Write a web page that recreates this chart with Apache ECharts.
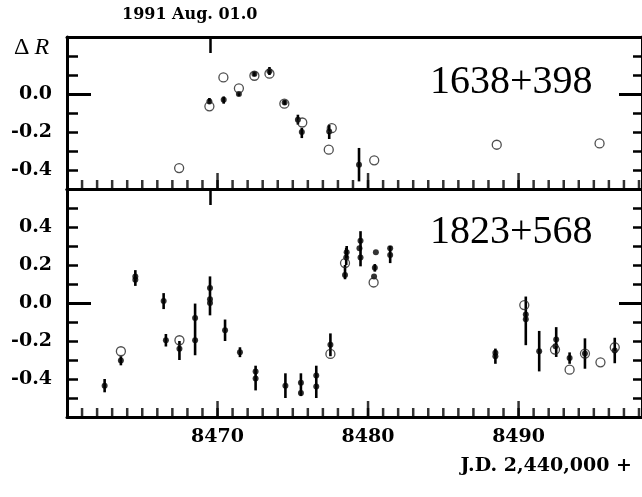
<!DOCTYPE html>
<html>
<head>
<meta charset="utf-8">
<script src="https://cdn.jsdelivr.net/npm/echarts@6/dist/echarts.min.js"></script>
<style>html,body{margin:0;padding:0;background:#fff;}#c{width:642px;height:497px;}</style>
</head>
<body>
<div id="c"></div>
<script>
// ---- axis settings / tick labels ----
const xMin = 8460, xMax = 8498.2;
const topYMin = -0.5, topYMax = 0.3;
const botYMin = -0.6, botYMax = 0.6;
const xTickLabels = [8470, 8480, 8490];
const aug1 = [8469.5];
const topYLabels = [0.0, -0.2, -0.4];
const botYLabels = [0.4, 0.2, 0.0, -0.2, -0.4];

// ---- 1638+398 (top panel) ----
const topOpenX = [8467.45, 8469.46, 8470.39, 8471.42, 8472.45, 8473.45, 8474.44, 8475.63, 8477.39, 8477.59, 8480.41, 8488.55, 8495.38];
const topOpenY = [-0.39, -0.065, 0.087, 0.03, 0.096, 0.107, -0.051, -0.15, -0.293, -0.18, -0.349, -0.267, -0.26];
const topDotX = [8469.46, 8470.41, 8471.42, 8472.45, 8473.45, 8474.46, 8475.34, 8475.6, 8477.42, 8479.4];
const topDotY = [-0.04, -0.03, 0.0, 0.105, 0.12, -0.045, -0.135, -0.2, -0.197, -0.372];
const topBarLo = [-0.051, -0.051, -0.01, 0.095, 0.10, -0.057, -0.161, -0.232, -0.237, -0.46];
const topBarHi = [-0.021, -0.013, 0.01, 0.115, 0.142, -0.033, -0.109, -0.179, -0.162, -0.284];

// ---- 1823+568 (bottom panel) ----
const botOpenX = [8463.58, 8467.47, 8477.5, 8478.47, 8480.37, 8490.38, 8492.42, 8493.39, 8494.41, 8495.44, 8496.39];
const botOpenY = [-0.254, -0.196, -0.268, 0.21, 0.108, -0.011, -0.245, -0.351, -0.266, -0.312, -0.233];
const botDotX = [8462.5, 8463.58, 8464.54, 8464.54, 8466.42, 8466.57, 8467.47, 8468.51, 8468.51, 8469.5, 8469.5, 8469.5, 8470.5, 8471.49, 8472.53, 8472.53, 8474.51, 8475.54, 8475.54, 8476.56, 8476.56, 8477.5, 8478.47, 8478.55, 8478.58, 8479.5, 8479.43, 8479.5, 8480.52, 8480.45, 8480.4, 8481.47, 8481.47, 8488.46, 8488.46, 8490.48, 8490.48, 8491.37, 8492.5, 8492.45, 8493.39, 8494.41, 8496.39];
const botDotY = [-0.435, -0.303, 0.14, 0.122, 0.01, -0.196, -0.241, -0.079, -0.196, 0.079, 0.02, 0.0, -0.144, -0.259, -0.36, -0.397, -0.435, -0.42, -0.474, -0.381, -0.439, -0.22, 0.147, 0.24, 0.267, 0.328, 0.288, 0.24, 0.267, 0.185, 0.14, 0.288, 0.252, -0.262, -0.28, -0.06, -0.086, -0.254, -0.192, -0.227, -0.289, -0.266, -0.25];
const botBarX = [8462.5, 8463.58, 8464.54, 8466.42, 8466.57, 8467.47, 8468.51, 8469.5, 8470.5, 8471.49, 8472.53, 8474.51, 8475.54, 8476.56, 8477.5, 8478.47, 8478.55, 8478.58, 8479.5, 8480.45, 8481.47, 8488.46, 8490.48, 8491.37, 8492.5, 8493.39, 8494.41, 8496.39];
const botBarLo = [-0.47, -0.328, 0.09, -0.032, -0.229, -0.30, -0.275, -0.065, -0.2, -0.285, -0.46, -0.5, -0.49, -0.5, -0.28, 0.125, 0.2, 0.24, 0.193, 0.165, 0.21, -0.32, -0.222, -0.36, -0.284, -0.32, -0.346, -0.317];
const botBarHi = [-0.40, -0.28, 0.173, 0.052, -0.163, -0.20, -0.003, 0.14, -0.087, -0.233, -0.33, -0.37, -0.37, -0.33, -0.16, 0.2, 0.29, 0.30, 0.378, 0.205, 0.30, -0.24, 0.034, -0.147, -0.127, -0.26, -0.186, -0.183];

const zip2 = (a, b) => a.map((v, i) => [v, b[i]]);
const zip3 = (a, b, c) => a.map((v, i) => [v, b[i], c[i]]);

// day tick positions along the x axis (every whole day inside the axis range)
const tickDays = [];
for (let d = Math.ceil(xMin) + 1; d < xMax; d++) tickDays.push(d);

const LBL_FONT = '"DejaVu Serif", serif';
const BLACK = '#000';

function renderBar(params, api) {
  const x = api.value(0), lo = api.value(1), hi = api.value(2);
  const p1 = api.coord([x, lo]), p2 = api.coord([x, hi]);
  return { type: 'line', shape: { x1: p1[0], y1: p1[1], x2: p2[0], y2: p2[1] },
           style: { stroke: BLACK, lineWidth: 2.6 } };
}
// bottom-edge ticks drawn as thin rect symbols standing on the axis minimum
function tickSeries(xi, yi, days, yBase, len) {
  return { type: 'scatter', xAxisIndex: xi, yAxisIndex: yi, symbol: 'rect',
    symbolSize: [2.5, len], symbolOffset: [0, -len / 2], clip: false, silent: true, z: 6,
    itemStyle: { color: BLACK }, data: days.map(d => [d, yBase]) };
}

function xAxisDef(gridIndex, position, opts) {
  return Object.assign({
    type: 'value', gridIndex, position, min: xMin, max: xMax, interval: 10,
    axisLine: { show: true, onZero: false, lineStyle: { color: BLACK, width: 3 } },
    axisTick: { show: false },
    axisLabel: { show: false },
    splitLine: { show: false }
  }, opts);
}
const aug1Tick = {
  axisTick: { show: true, inside: true, length: 16, customValues: aug1, lineStyle: { color: BLACK, width: 2.5 } }
};

function yAxisDef(gridIndex, position, min, max, opts) {
  return Object.assign({
    type: 'value', gridIndex, position, min, max, interval: 0.1,
    axisLine: { show: true, onZero: false, lineStyle: { color: BLACK, width: 3 } },
    axisTick: { show: true, inside: true, length: position === 'left' ? 11 : 9, lineStyle: { color: BLACK, width: 2.5 } },
    axisLabel: { show: false },
    splitLine: { show: false }
  }, opts);
}
function zeroAxis(gridIndex, position, min, max, len) {
  return {
    type: 'value', gridIndex, position, min, max,
    axisLine: { show: false, onZero: false },
    axisTick: { show: true, inside: true, length: len, customValues: [0], lineStyle: { color: BLACK, width: 3 } },
    axisLabel: { show: false }, splitLine: { show: false }
  };
}
function yLabels(values) {
  return { show: true, customValues: values, margin: 15, align: 'right',
    formatter: v => Number(v).toFixed(1),
    color: BLACK, fontFamily: LBL_FONT, fontWeight: 'bold', fontSize: 19 };
}

const chart = echarts.init(document.getElementById('c'), null, { renderer: 'canvas' });
chart.setOption({
  animation: false,
  backgroundColor: '#fff',
  grid: [
    { left: 67, right: -3, top: 37, height: 152 },
    { left: 67, right: -3, top: 189, height: 228 }
  ],
  xAxis: [
    xAxisDef(0, 'bottom'),
    xAxisDef(0, 'top', aug1Tick),
    xAxisDef(1, 'bottom', {
      axisLabel: { show: true, customValues: xTickLabels, margin: 11, color: BLACK,
        formatter: v => String(Math.round(v)),
        fontFamily: LBL_FONT, fontWeight: 'bold', fontSize: 19 }
    }),
    xAxisDef(1, 'top', aug1Tick)
  ],
  yAxis: [
    yAxisDef(0, 'left', topYMin, topYMax, { axisLabel: yLabels(topYLabels) }),
    yAxisDef(0, 'right', topYMin, topYMax),
    zeroAxis(0, 'left', topYMin, topYMax, 24),
    zeroAxis(0, 'right', topYMin, topYMax, 23),
    yAxisDef(1, 'left', botYMin, botYMax, { axisLabel: yLabels(botYLabels) }),
    yAxisDef(1, 'right', botYMin, botYMax),
    zeroAxis(1, 'left', botYMin, botYMax, 24),
    zeroAxis(1, 'right', botYMin, botYMax, 23)
  ],
  series: [
    tickSeries(0, 0, tickDays, topYMin, 9),
    tickSeries(0, 0, xTickLabels, topYMin, 16),
    tickSeries(2, 4, tickDays, botYMin, 9),
    tickSeries(2, 4, xTickLabels, botYMin, 16),
    { type: 'custom', xAxisIndex: 0, yAxisIndex: 0, renderItem: renderBar, encode: { x: 0, y: [1, 2] },
      data: zip3(topDotX, topBarLo, topBarHi), silent: true, z: 3 },
    { type: 'scatter', xAxisIndex: 0, yAxisIndex: 0, symbol: 'circle', symbolSize: 6,
      itemStyle: { color: BLACK }, data: zip2(topDotX, topDotY), silent: true, z: 4 },
    { type: 'scatter', xAxisIndex: 0, yAxisIndex: 0, symbol: 'circle', symbolSize: 9,
      itemStyle: { color: 'rgba(0,0,0,0)', borderColor: '#222', borderWidth: 1.3 },
      data: zip2(topOpenX, topOpenY), silent: true, z: 5 },
    { type: 'custom', xAxisIndex: 2, yAxisIndex: 4, renderItem: renderBar, encode: { x: 0, y: [1, 2] },
      data: zip3(botBarX, botBarLo, botBarHi), silent: true, z: 3 },
    { type: 'scatter', xAxisIndex: 2, yAxisIndex: 4, symbol: 'circle', symbolSize: 6,
      itemStyle: { color: BLACK }, data: zip2(botDotX, botDotY), silent: true, z: 4 },
    { type: 'scatter', xAxisIndex: 2, yAxisIndex: 4, symbol: 'circle', symbolSize: 9,
      itemStyle: { color: 'rgba(0,0,0,0)', borderColor: '#222', borderWidth: 1.3 },
      data: zip2(botOpenX, botOpenY), silent: true, z: 5 }
  ],
  graphic: [
    { type: 'text', x: 122, y: 15, silent: true,
      style: { text: '1991 Aug. 01.0', fill: BLACK, font: 'bold 16px "DejaVu Serif"', align: 'left', verticalAlign: 'middle' } },
    { type: 'text', x: 14, y: 48, silent: true,
      style: { text: '{d|Δ}{r|R}', align: 'left', verticalAlign: 'middle',
        rich: { d: { fontFamily: 'Liberation Serif', fontSize: 24, fill: BLACK, color: BLACK },
                r: { fontFamily: 'Liberation Serif', fontStyle: 'italic', fontSize: 24, fill: BLACK, color: BLACK, padding: [0, 0, 0, 5] } } } },
    { type: 'text', x: 430, y: 82, silent: true,
      style: { text: '1638+398', fill: BLACK, font: '40px "Liberation Serif"', align: 'left', verticalAlign: 'middle' } },
    { type: 'text', x: 430, y: 232, silent: true,
      style: { text: '1823+568', fill: BLACK, font: '40px "Liberation Serif"', align: 'left', verticalAlign: 'middle' } },
    { type: 'text', x: 632, y: 466, silent: true,
      style: { text: 'J.D. 2,440,000 +', fill: BLACK, font: 'bold 19px "DejaVu Serif"', align: 'right', verticalAlign: 'middle' } }
  ]
});
</script>
</body>
</html>
